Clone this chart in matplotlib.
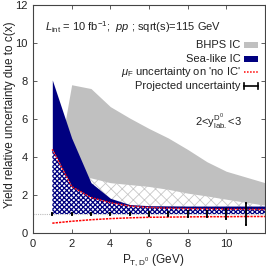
import numpy as np
import matplotlib.pyplot as plt
from matplotlib.patches import Rectangle

plt.rcParams['font.family'] = ['Liberation Sans', 'DejaVu Sans']
plt.rcParams['mathtext.fontset'] = 'custom'
plt.rcParams['mathtext.rm'] = 'Liberation Sans'
plt.rcParams['mathtext.it'] = 'Liberation Sans:italic'
plt.rcParams['mathtext.sf'] = 'Liberation Sans'

# pT points (GeV)
pt = [1, 2, 3, 4, 5, 6, 7, 8, 9, 10, 11, 12]
# BHPS IC band
bhps_lo = [1.6, 3.0, 2.9, 2.65, 2.55, 2.45, 2.3, 2.1, 1.95, 1.78, 1.62, 1.47]
bhps_hi = [2.0, 7.8, 7.6, 6.65, 6.05, 5.5, 5.0, 4.4, 3.75, 3.25, 2.95, 2.65]
# Sea-like IC, upper edge
sea_hi = [8.05, 5.0, 2.65, 1.83, 1.5, 1.44, 1.43, 1.42, 1.42, 1.42, 1.42, 1.42]
# mu_F uncertainty on 'no IC'
muf_hi = [4.4, 2.45, 1.87, 1.6, 1.42, 1.35, 1.31, 1.28, 1.27, 1.26, 1.25, 1.24]
muf_lo = [0.52, 0.62, 0.70, 0.76, 0.80, 0.83, 0.84, 0.85, 0.86, 0.86, 0.87, 0.87]
# projected uncertainty
proj_x = [1, 2, 3, 4, 5, 6, 7, 8, 9, 10, 11]
proj_err = [0.03, 0.03, 0.03, 0.04, 0.05, 0.1, 0.1, 0.15, 0.15, 0.28, 0.57]

navy = '#000080'
grey = '#c0c0c0'

fig = plt.figure(figsize=(2.66, 2.71), dpi=100)
ax = fig.add_axes([0.124, 0.140, 0.872, 0.842])

ones = np.ones(len(pt))
ax.axhline(1, color='#bbbbbb', ls=(0, (1, 1)), lw=0.8, zorder=0.5)

# hatched region below BHPS band
plt.rcParams['hatch.linewidth'] = 0.6
ax.fill_between(pt, ones, bhps_lo, facecolor='white', edgecolor='#c8c8c8',
                hatch='xxx', linewidth=0, zorder=1)
ax.fill_between(pt, bhps_lo, bhps_hi, color=grey, linewidth=0, zorder=2)

# sea-like IC band
ax.fill_between(pt, muf_hi, sea_hi, color=navy, linewidth=0, zorder=3)
plt.rcParams['hatch.linewidth'] = 0.9
ax.fill_between(pt, ones, muf_hi, facecolor='white', edgecolor=navy,
                hatch='xxxxxxx', linewidth=0, zorder=3)

# mu_F curves
ax.plot(pt, muf_hi, color='red', ls=(0, (1, 1)), lw=1.1, zorder=4)
ax.plot(pt, muf_lo, color='red', ls=(0, (1.5, 0.7)), lw=1.1, zorder=4)

# projected uncertainty
ax.errorbar(proj_x, np.ones(len(proj_x)), yerr=proj_err, fmt='none',
            ecolor='black', elinewidth=1.3, capsize=1, capthick=1.3, zorder=5)

# texts
ax.text(0.62, 10.85, r'$L_{\rm int}$ = 10 fb$^{-1}$;  $pp$ ; sqrt(s)=115 GeV',
        fontsize=8, va='center', color='#222222')
ax.text(9.6, 5.85, r'2<y$_{\rm lab.}^{\rm D^0}$<3', fontsize=8,
        ha='center', va='center', color='#222222')

# legend
labels = ['BHPS IC', 'Sea-like IC', r"$\mu_{\rm F}$ uncertainty on 'no IC'",
          'Projected uncertainty']
rows = [0.825, 0.763, 0.705, 0.645]
for lab, yy in zip(labels, rows):
    ax.text(0.895, yy, lab, transform=ax.transAxes, fontsize=8,
            ha='right', va='center', color='#222222')
ax.add_patch(Rectangle((0.91, rows[0] - 0.013), 0.06, 0.026,
                       transform=ax.transAxes, color=grey, lw=0))
ax.add_patch(Rectangle((0.91, rows[1] - 0.013), 0.06, 0.026,
                       transform=ax.transAxes, color=navy, lw=0))
ax.plot([0.91, 0.97], [rows[2], rows[2]], transform=ax.transAxes,
        color='red', ls=(0, (1, 1)), lw=1.1)
ax.plot([0.91, 0.97], [rows[3], rows[3]], transform=ax.transAxes,
        color='black', lw=1.2)
for xx in (0.91, 0.97):
    ax.plot([xx, xx], [rows[3] - 0.012, rows[3] + 0.012],
            transform=ax.transAxes, color='black', lw=1.2)

ax.set_xlim(0, 12)
ax.set_ylim(0, 12)
ax.set_xticks([0, 2, 4, 6, 8, 10])
ax.set_yticks([0, 2, 4, 6, 8, 10, 12])
ax.tick_params(direction='in', top=True, right=True, length=3, width=0.6,
               labelsize=8, color='#444444', labelcolor='#222222', pad=4)
for s in ax.spines.values():
    s.set_color('#444444')
    s.set_linewidth(0.8)

ax.set_xlabel(r'P$_{\rm T,D^0}$ (GeV)', fontsize=8.5, color='#222222')
ax.xaxis.set_label_coords(0.52, -0.085)
ax.set_ylabel('Yield relative uncertainty due to c(x)', fontsize=8.5,
              color='#222222')
ax.yaxis.set_label_coords(-0.075, 0.52)

fig.savefig('out.png', dpi=100)
